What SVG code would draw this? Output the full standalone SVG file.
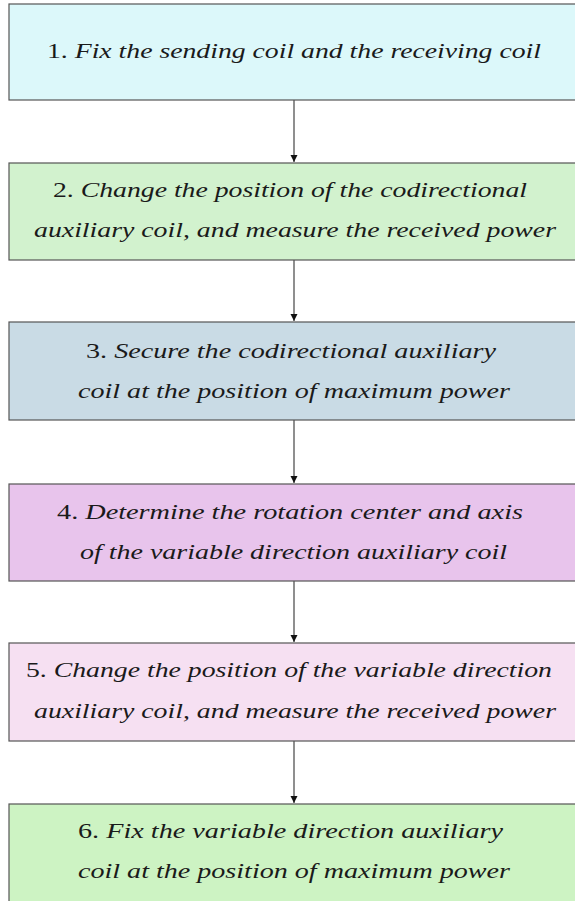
<svg xmlns="http://www.w3.org/2000/svg" width="575" height="901" viewBox="0 0 575 901">
<defs>
<style>
.box{stroke:#555;stroke-width:1.2}
.t{font-family:"Liberation Serif","Times New Roman",serif;font-size:21px;fill:#1a1a1a}
.i{font-style:italic}
.c{stroke:#333;stroke-width:1.1;fill:none}
</style>
<marker id="ah" markerWidth="8" markerHeight="10" refX="7" refY="5" orient="auto" markerUnits="userSpaceOnUse">
<path d="M0,1.5 L7,5 L0,8.5 Z" fill="#111"/>
</marker>
</defs>
<rect width="575" height="901" fill="#fff"/>
<g id="connectors">
<line class="c" x1="294" y1="100" x2="294" y2="162" marker-end="url(#ah)"/>
<line class="c" x1="294" y1="260" x2="294" y2="321" marker-end="url(#ah)"/>
<line class="c" x1="294" y1="420" x2="294" y2="483" marker-end="url(#ah)"/>
<line class="c" x1="294" y1="581" x2="294" y2="642" marker-end="url(#ah)"/>
<line class="c" x1="294" y1="741" x2="294" y2="803" marker-end="url(#ah)"/>
</g>
<g id="step1">
<rect class="box" x="9" y="4" width="580" height="96" fill="#dcf8fa"/>
<text class="t" x="47" y="58" textLength="494" lengthAdjust="spacingAndGlyphs">1. <tspan class="i">Fix the sending coil and the receiving coil</tspan></text>
</g>
<g id="step2">
<rect class="box" x="9" y="163" width="580" height="97" fill="#d2f2ce"/>
<text class="t" x="53" y="197" textLength="474" lengthAdjust="spacingAndGlyphs">2. <tspan class="i">Change the position of the codirectional</tspan></text>
<text class="t i" x="34" y="237" textLength="522" lengthAdjust="spacingAndGlyphs">auxiliary coil, and measure the received power</text>
</g>
<g id="step3">
<rect class="box" x="9" y="322" width="580" height="98" fill="#c9dbe5"/>
<text class="t" x="86" y="358" textLength="410" lengthAdjust="spacingAndGlyphs">3. <tspan class="i">Secure the codirectional auxiliary</tspan></text>
<text class="t i" x="78" y="398" textLength="432" lengthAdjust="spacingAndGlyphs">coil at the position of maximum power</text>
</g>
<g id="step4">
<rect class="box" x="9" y="484" width="580" height="97" fill="#e8c4ec"/>
<text class="t" x="57" y="519" textLength="466" lengthAdjust="spacingAndGlyphs">4. <tspan class="i">Determine the rotation center and axis</tspan></text>
<text class="t i" x="80" y="559" textLength="427" lengthAdjust="spacingAndGlyphs">of the variable direction auxiliary coil</text>
</g>
<g id="step5">
<rect class="box" x="9" y="643" width="580" height="98" fill="#f6e0f2"/>
<text class="t" x="26" y="677" textLength="526" lengthAdjust="spacingAndGlyphs">5. <tspan class="i">Change the position of the variable direction</tspan></text>
<text class="t i" x="34" y="718" textLength="522" lengthAdjust="spacingAndGlyphs">auxiliary coil, and measure the received power</text>
</g>
<g id="step6">
<rect class="box" x="9" y="804" width="580" height="120" fill="#cdf3c3"/>
<text class="t" x="78" y="838" textLength="425" lengthAdjust="spacingAndGlyphs">6. <tspan class="i">Fix the variable direction auxiliary</tspan></text>
<text class="t i" x="78" y="878" textLength="432" lengthAdjust="spacingAndGlyphs">coil at the position of maximum power</text>
</g>
</svg>
